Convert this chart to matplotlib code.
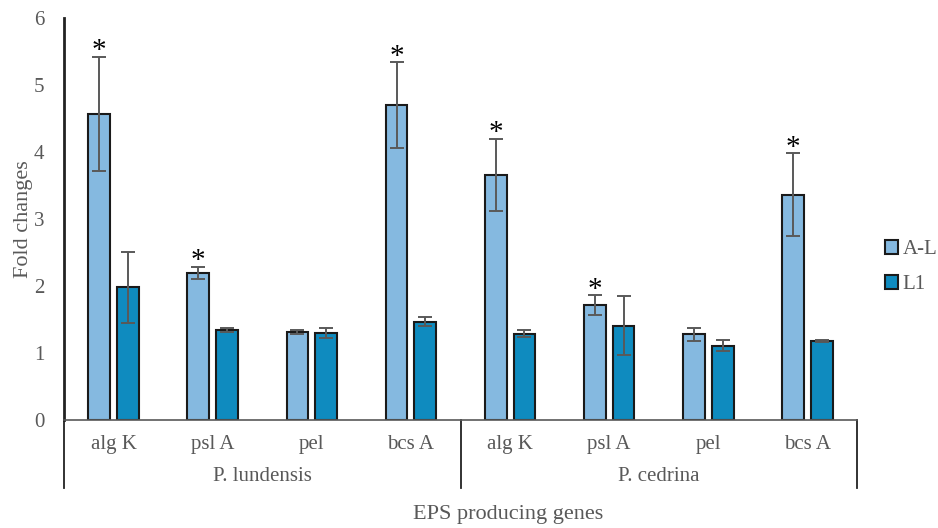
import numpy as np
import matplotlib.pyplot as plt
import matplotlib.transforms as mtransforms

plt.rcParams['font.family'] = ['Liberation Serif', 'DejaVu Serif']

# data
groups = ['P. lundensis', 'P. cedrina']
genes = ['alg K', 'psl A', 'pel', 'bcs A']
al_vals = [4.57, 2.20, 1.31, 4.70, 3.66, 1.71, 1.28, 3.36]
al_err = [0.85, 0.09, 0.03, 0.64, 0.54, 0.15, 0.10, 0.62]
l1_vals = [1.98, 1.34, 1.30, 1.47, 1.29, 1.41, 1.11, 1.18]
l1_err = [0.53, 0.03, 0.07, 0.07, 0.05, 0.44, 0.08, 0.01]
signif = [True, True, False, True, True, True, False, True]

grey = '#595959'
c_al = '#85B9E0'
c_l1 = '#0F8BBF'

fig = plt.figure(figsize=(9.38, 5.28), dpi=100)
ax = fig.add_axes([64 / 938, 108 / 528, 793 / 938, 402 / 528])

x = np.arange(len(al_vals))
w = 0.22
off = 0.145
ekw = dict(ecolor=grey, elinewidth=1.4, capsize=5, capthick=1.4)
ax.bar(x - off, al_vals, w, color=c_al, edgecolor='#1a1a1a', linewidth=1.5,
       yerr=al_err, error_kw=ekw, label='A-L', zorder=2)
ax.bar(x + off, l1_vals, w, color=c_l1, edgecolor='#1a1a1a', linewidth=1.5,
       yerr=l1_err, error_kw=ekw, label='L1', zorder=2)

# significance stars
for i, s in enumerate(signif):
    if s:
        ax.text(x[i] - off, al_vals[i] + al_err[i] - 0.02, '*', ha='center',
                va='baseline', fontsize=21, color='black')

ax.set_xlim(-0.5, len(al_vals) - 0.5)
ax.set_ylim(0, 6)
ax.set_yticks(range(0, 7))
ax.tick_params(axis='y', length=0, labelsize=15, labelcolor=grey, pad=14)
ax.set_xticks([])
for s in ['top', 'right']:
    ax.spines[s].set_visible(False)
ax.spines['left'].set_linewidth(2)
ax.spines['left'].set_color('#222222')
ax.spines['bottom'].set_color(grey)
ax.spines['bottom'].set_linewidth(1.2)

# multi-level category axis
trans = mtransforms.blended_transform_factory(ax.transData, ax.transAxes)
gene_labels = genes * len(groups)
for i, g in enumerate(gene_labels):
    ax.text(i, -0.062, g, transform=trans, ha='center', va='center',
            fontsize=15, color=grey)
for k, grp in enumerate(groups):
    ax.text(k * 4 + 1.5, -0.14, grp, transform=trans, ha='center',
            va='center', fontsize=15, color=grey)
for xb in [-0.5, 3.5, 7.5]:
    ax.plot([xb, xb], [0, -0.17], transform=trans, color='#222222',
            lw=1.3, clip_on=False)

ax.set_ylabel('Fold changes', fontsize=16, color=grey, labelpad=1)
fig.text(508 / 938, 14 / 528, 'EPS producing genes', ha='center',
         va='center', fontsize=16, color=grey)

ax.legend(loc='center left', bbox_to_anchor=(1.035, 0.38), frameon=False,
          fontsize=15, handlelength=0.65, handleheight=0.65, handletextpad=0.2,
          labelspacing=0.75, borderaxespad=0, borderpad=0, labelcolor=grey)

fig.savefig('out.png', dpi=100)
